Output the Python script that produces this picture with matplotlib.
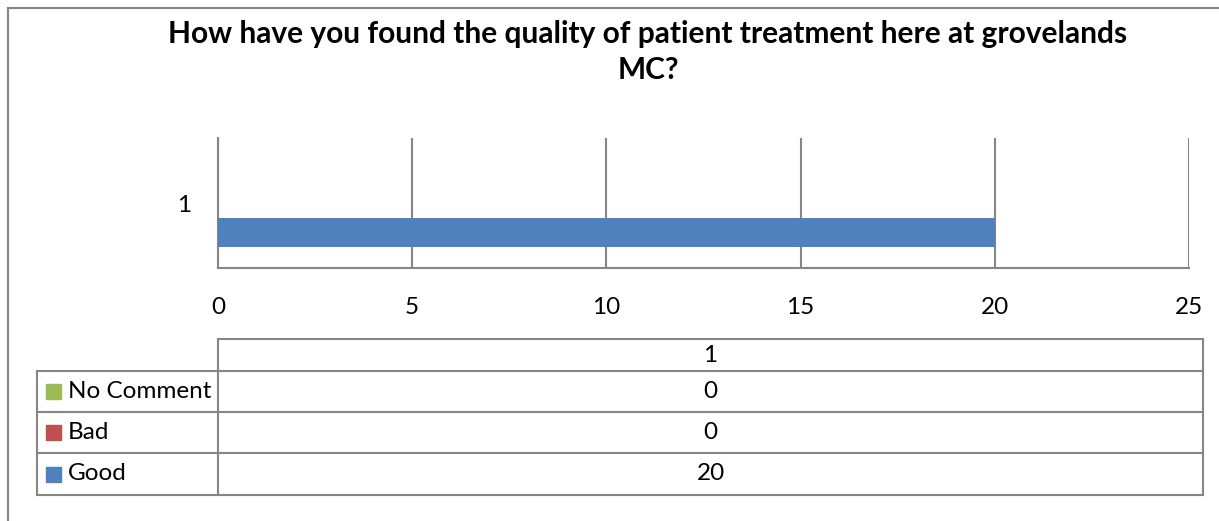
import matplotlib.pyplot as plt
from matplotlib.lines import Line2D
from matplotlib.patches import Rectangle

# data
series = ["Good", "Bad", "No Comment"]
values = [20, 0, 0]
colors = ["#4F81BD", "#C0504D", "#9BBB59"]
category = "1"
xticks = [0, 5, 10, 15, 20, 25]
title = "How have you found the quality of patient treatment here at grovelands\nMC?"

W, H = 1219, 521
plt.rcParams['font.family'] = ['Lato', 'DejaVu Sans']
fig = plt.figure(figsize=(W / 100, H / 100), dpi=100)

# overlay for frame + table, pixel coords
bg = fig.add_axes([0, 0, 1, 1])
bg.set_xlim(0, W)
bg.set_ylim(H, 0)
bg.axis("off")
grey = "#868686"
bg.add_line(Line2D([7.5, 7.5], [7.5, H], color=grey, lw=1.5))
bg.add_line(Line2D([7.5, W], [7.5, 7.5], color=grey, lw=1.5))

# main chart axes
x0, x1, y0, y1 = 218, 1189, 138, 268
ax = fig.add_axes([x0 / W, 1 - y1 / H, (x1 - x0) / W, (y1 - y0) / H])
h = 0.225
for i, (s, v, c) in enumerate(zip(series, values, colors)):
    ax.barh(1 + (i - 1) * h, v, height=h, color=c, zorder=3)
ax.set_xlim(0, 25)
ax.set_ylim(0.5, 1.5)
ax.set_xticks(xticks)
ax.set_yticks([1])
ax.set_yticklabels([category])
ax.grid(axis="x", color=grey, lw=1.5, zorder=0)
for sp in ["top", "right"]:
    ax.spines[sp].set_visible(False)
for sp in ["left", "bottom"]:
    ax.spines[sp].set_color(grey)
    ax.spines[sp].set_linewidth(1.5)
ax.tick_params(axis="x", length=0, pad=21, labelsize=17.5)
ax.tick_params(axis="y", length=0, pad=19, labelsize=17.5)
ax.set_zorder(2)

fig.text(648 / W, 1 - 52 / H, title, ha="center", va="center",
         fontsize=21.5, fontweight="bold", linespacing=1.35)

# data table
tx0, tx1, tl = 218, 1203, 37
rows = [339, 371, 412, 453, 495]
lc = dict(color=grey, lw=1.5)
bg.add_line(Line2D([tx0, tx1], [rows[0], rows[0]], **lc))
for r in rows[1:]:
    bg.add_line(Line2D([tl, tx1], [r, r], **lc))
bg.add_line(Line2D([tx0, tx0], [rows[0], rows[-1]], **lc))
bg.add_line(Line2D([tx1, tx1], [rows[0], rows[-1]], **lc))
bg.add_line(Line2D([tl, tl], [rows[1], rows[-1]], **lc))
cx = (tx0 + tx1) / 2
bg.text(cx, (rows[0] + rows[1]) / 2, category, ha="center", va="center", fontsize=17.5)
for k, i in enumerate(reversed(range(len(series)))):
    yc = (rows[k + 1] + rows[k + 2]) / 2
    bg.add_patch(Rectangle((46, yc - 7.5), 15, 15, color=colors[i]))
    bg.text(68, yc, series[i], ha="left", va="center", fontsize=17.5)
    bg.text(cx, yc, str(values[i]), ha="center", va="center", fontsize=17.5)

fig.savefig("out.png", dpi=100)
